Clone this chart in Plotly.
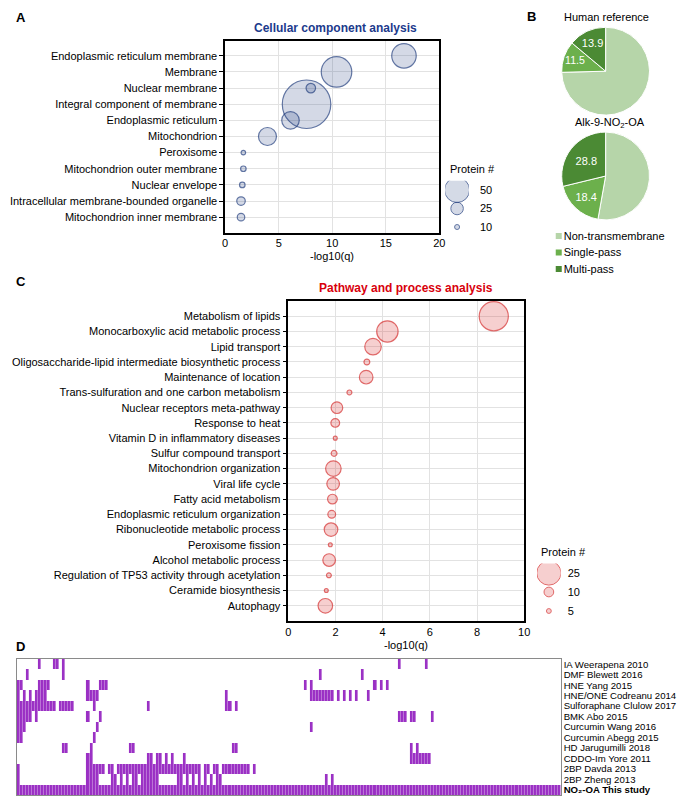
import plotly.graph_objs as go

W, H = 688, 796
FONT = "Liberation Sans, Arial, sans-serif"

# ---- panel A: cellular component analysis
cc_terms = ["Endoplasmic reticulum membrane", "Membrane", "Nuclear membrane",
            "Integral component of membrane", "Endoplasmic reticulum", "Mitochondrion",
            "Peroxisome", "Mitochondrion outer membrane", "Nuclear envelope",
            "Intracellular membrane-bounded organelle", "Mitochondrion inner membrane"]
cc_logq = [16.7, 10.4, 8.0, 7.6, 6.1, 3.95, 1.7, 1.7, 1.6, 1.48, 1.48]
cc_count = [49, 61, 19, 97, 35, 36, 9, 11, 11, 17, 15]
cc_legend = [50, 25, 10]

# ---- panel B: transmembrane topology (%)
tm_classes = ["Non-transmembrane", "Single-pass", "Multi-pass"]
human_ref_pct = [74.6, 11.5, 13.9]
alk_pct = [52.8, 18.4, 28.8]

# ---- panel C: pathway and process analysis
pw_terms = ["Metabolism of lipids", "Monocarboxylic acid metabolic process", "Lipid transport",
            "Oligosaccharide-lipid intermediate biosynthetic process", "Maintenance of location",
            "Trans-sulfuration and one carbon metabolism", "Nuclear receptors meta-pathway",
            "Response to heat", "Vitamin D in inflammatory diseases", "Sulfur compound transport",
            "Mitochondrion organization", "Viral life cycle", "Fatty acid metabolism",
            "Endoplasmic reticulum organization", "Ribonucleotide metabolic process",
            "Peroxisome fission", "Alcohol metabolic process",
            "Regulation of TP53 activity through acetylation", "Ceramide biosynthesis", "Autophagy"]
pw_logq = [8.71, 4.2, 3.59, 3.33, 3.3, 2.59, 2.06, 1.99, 1.99, 1.94,
           1.91, 1.9, 1.87, 1.84, 1.81, 1.78, 1.73, 1.72, 1.61, 1.57]
pw_count = [30, 22, 17, 6, 14, 5, 12, 9, 4, 6, 16, 13, 10, 8, 14, 4, 13, 5, 4, 15]
pw_legend = [25, 10, 5]

# ---- panel D: overlap with other electrophile studies (runs of protein columns hit)
n_proteins = 180
studies = ["IA Weerapena 2010", "DMF Blewett 2016", "HNE Yang 2015", "HNE/ONE Codreanu 2014",
           "Sulforaphane Clulow 2017", "BMK Abo 2015", "Curcumin Wang 2016", "Curcumin Abegg 2015",
           "HD Jarugumilli 2018", "CDDO-Im Yore 2011", "2BP Davda 2013", "2BP Zheng 2013",
           "<b>NO₂-OA This study</b>"]
study_runs = [
    [(7, 7), (12, 13), (15, 15), (126, 126), (135, 135)],
    [(3, 3), (15, 15), (100, 100), (114, 114)],
    [(0, 1), (7, 10), (23, 23), (27, 29), (95, 95), (97, 97), (118, 118), (120, 120), (122, 122)],
    [(0, 0), (2, 2), (4, 4), (6, 9), (23, 26), (69, 69), (97, 104), (106, 106), (108, 108),
     (110, 110), (112, 112), (116, 116)],
    [(0, 12), (14, 18), (25, 25), (43, 43), (69, 70), (72, 72)],
    [(0, 4), (6, 6), (23, 23), (27, 27), (126, 128), (130, 131), (137, 137)],
    [(0, 2), (26, 26), (97, 97)],
    [(0, 1), (25, 25)],
    [(15, 16), (24, 24), (37, 38), (71, 72), (130, 130), (132, 132)],
    [(23, 24), (43, 44), (46, 47), (49, 49), (51, 51), (55, 55), (130, 136)],
    [(0, 0), (23, 28), (30, 31), (33, 60), (62, 63), (65, 66), (68, 76), (78, 78)],
    [(0, 0), (23, 26), (31, 32), (34, 34), (36, 36), (38, 39), (41, 46), (53, 54), (56, 56),
     (58, 58), (60, 60), (62, 62), (64, 64), (66, 67), (102, 102), (104, 104)],
    [(0, 179)],
]

NAVY = "#1f3b7c"
RED = "#d42a2a"
PURPLE = "#9a2fc4"
GREENS = ["#b6d5a9", "#6cb04c", "#4b8a34"]


def xd(a, b):
    return [a / W, b / W]


def yd(top, bottom):
    return [1 - bottom / H, 1 - top / H]


fig = go.Figure()

# A bubbles
fig.add_trace(go.Scatter(x=cc_logq, y=cc_terms, mode="markers", xaxis="x", yaxis="y",
                         marker=dict(size=cc_count, sizemode="diameter", sizeref=2,
                                     color="rgba(31,59,124,0.27)", line=dict(color=NAVY, width=1.2))))
fig.add_trace(go.Scatter(x=[0] * 3, y=[str(v) for v in cc_legend], mode="markers", xaxis="x2", yaxis="y2",
                         marker=dict(size=cc_legend, sizemode="diameter", sizeref=2,
                                     color="rgba(31,59,124,0.27)", line=dict(color=NAVY, width=1))))

# C bubbles
fig.add_trace(go.Scatter(x=pw_logq, y=pw_terms, mode="markers", xaxis="x3", yaxis="y3",
                         marker=dict(size=pw_count, sizemode="diameter", sizeref=1 / 0.97,
                                     color="rgba(214,30,30,0.3)", line=dict(color=RED, width=1.2))))
fig.add_trace(go.Scatter(x=[0] * 3, y=[str(v) for v in pw_legend], mode="markers", xaxis="x4", yaxis="y4",
                         marker=dict(size=pw_legend, sizemode="diameter", sizeref=1 / 0.97,
                                     color="rgba(214,30,30,0.3)", line=dict(color=RED, width=1))))

# B pies
for vals, top in [(human_ref_pct, 18.7), (alk_pct, 123.5)]:
    fig.add_trace(go.Pie(values=vals, labels=tm_classes, sort=False, direction="clockwise", rotation=0,
                         domain=dict(x=xd(558, 647), y=yd(top, top + 89)),
                         marker=dict(colors=GREENS, line=dict(color="white", width=1)),
                         text=[""] + [str(v) for v in vals[1:]], textinfo="text",
                         textposition="inside", insidetextorientation="horizontal",
                         textfont=dict(color="white", size=11, family=FONT),
                         showlegend=False, hoverinfo="skip"))
# B legend
fig.add_trace(go.Scatter(x=[0] * 3, y=tm_classes, mode="markers", xaxis="x5", yaxis="y5",
                         marker=dict(symbol="square", size=6, color=GREENS)))

# D heatmap
z = []
for runs in study_runs:
    row = [0] * n_proteins
    for a, b in runs:
        for i in range(a, b + 1):
            row[i] = 1
    z.append(row)
fig.add_trace(go.Heatmap(z=z, x=list(range(n_proteins)), y=studies, xaxis="x6", yaxis="y6",
                         colorscale=[[0, "white"], [1, PURPLE]], showscale=False, xgap=0.35,
                         hoverinfo="skip"))

tickf = dict(family=FONT, size=11, color="black")
box = dict(showline=True, linecolor="black", linewidth=1.5, mirror=True, zeroline=False)
hidden = dict(visible=False, fixedrange=True)

fig.update_layout(
    width=W, height=H, margin=dict(l=0, r=0, t=0, b=0),
    paper_bgcolor="white", plot_bgcolor="white", showlegend=False,
    font=dict(family=FONT, size=11, color="black"),
    xaxis=dict(domain=xd(217, 434), range=[0, 20], tickvals=[0, 5, 10, 15, 20], anchor="y",
               showgrid=True, gridcolor="#e2e2e2", tickfont=tickf, **box),
    yaxis=dict(domain=yd(32.5, 224.5), type="category", categoryarray=cc_terms, range=[10.95, -0.95],
               anchor="x", ticks="outside", ticklen=4, tickcolor="black", showgrid=True,
               gridcolor="#e2e2e2", tickfont=tickf, **box),
    xaxis2=dict(domain=xd(440, 464), range=[-1, 1], anchor="y2", **hidden),
    yaxis2=dict(domain=yd(172.75, 228.25), type="category", categoryarray=[str(v) for v in cc_legend],
                range=[2.5, -0.5], anchor="x2", side="right", showgrid=False, showline=False,
                ticks="", ticklabelstandoff=10, tickfont=tickf, fixedrange=True),
    xaxis3=dict(domain=xd(281, 520), range=[0, 10], tickvals=[0, 2, 4, 6, 8, 10], anchor="y3",
                showgrid=True, gridcolor="#e2e2e2", tickfont=tickf, **box),
    yaxis3=dict(domain=yd(293, 613), type="category", categoryarray=pw_terms, range=[20.0, -1.0],
                anchor="x3", ticks="outside", ticklen=4, tickcolor="black", showgrid=True,
                gridcolor="#e2e2e2", tickfont=tickf, **box),
    xaxis4=dict(domain=xd(533, 557), range=[-1, 1], anchor="y4", **hidden),
    yaxis4=dict(domain=yd(555.5, 612.5), type="category", categoryarray=[str(v) for v in pw_legend],
                range=[2.5, -0.5], anchor="x4", side="right", showgrid=False, showline=False,
                ticks="", ticklabelstandoff=6, tickfont=tickf, fixedrange=True),
    xaxis5=dict(domain=xd(551, 559), range=[-1, 1], anchor="y5", **hidden),
    yaxis5=dict(domain=yd(219.75, 269.25), type="category", categoryarray=tm_classes,
                range=[2.5, -0.5], anchor="x5", side="right", showgrid=False, showline=False,
                ticks="", ticklabelstandoff=0, tickfont=tickf, fixedrange=True),
    xaxis6=dict(domain=xd(6, 557), range=[-0.5, n_proteins - 0.5], anchor="y6", showticklabels=False,
                ticks="", showgrid=False, showline=True, linecolor="#8a8a8a", linewidth=1, mirror=True,
                zeroline=False),
    yaxis6=dict(domain=yd(651, 787), type="category", categoryarray=studies, autorange="reversed",
                tickmode="array", tickvals=studies, ticktext=studies,
                anchor="x6", side="right", ticks="", showgrid=False, showline=True, linecolor="#8a8a8a",
                linewidth=1, mirror=True, ticklabelstandoff=0,
                tickfont=dict(family=FONT, size=9.6, color="black")),
)


def note(text, x, y, size=11, color="black", xanchor="center"):
    fig.add_annotation(text=text, x=x / W, y=1 - y / H, xref="paper", yref="paper", showarrow=False,
                       xanchor=xanchor, yanchor="middle", font=dict(family=FONT, size=size, color=color))


# panel letters
note("<b>A</b>", 3, 9, size=13, xanchor="left")
note("<b>B</b>", 521, 8, size=13, xanchor="left")
note("<b>C</b>", 3, 273, size=13, xanchor="left")
note("<b>D</b>", 3, 638, size=13, xanchor="left")

# titles / axis titles
note("<b>Cellular component analysis</b>", 329, 20, size=12, color="#1c3a8c")
note("-log10(q)", 325.5, 248)
note("Protein #", 443, 161, xanchor="left")
note("Human reference", 603, 9)
note("Alk-9-NO<sub>2</sub>-OA", 607, 115)
note("<b>Pathway and process analysis</b>", 400, 280, size=12, color="#d8000c")
note("-log10(q)", 400.5, 637)
note("Protein #", 535, 544, xanchor="left")

fig.write_html("out.html")
